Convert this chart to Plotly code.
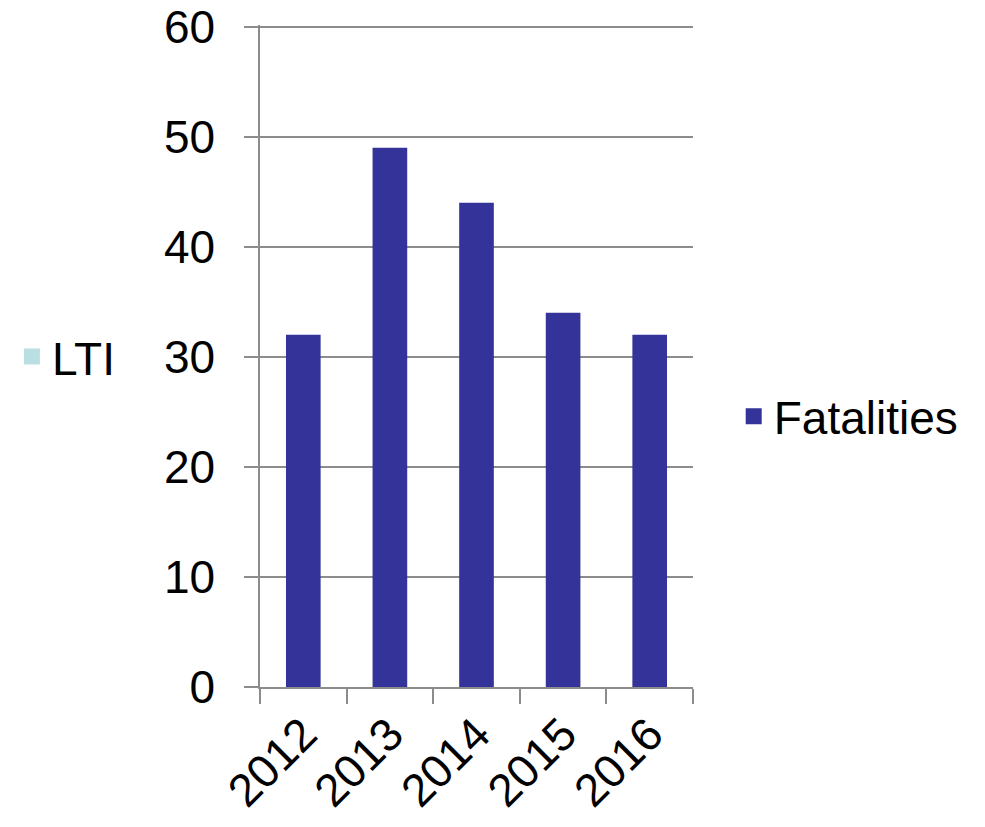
import plotly.graph_objects as go

years = ["2012", "2013", "2014", "2015", "2016"]
fatalities = [32, 49, 44, 34, 32]
lti = [None, None, None, None, None]
y_ticks = [0, 10, 20, 30, 40, 50, 60]

FONT = "Liberation Sans, Arial, sans-serif"
GRID = "#8c8c8c"

fig = go.Figure()
fig.add_trace(go.Bar(x=years, y=fatalities, name="Fatalities", marker=dict(color="#333399", line=dict(width=0)),
                     width=0.4, showlegend=False))
fig.add_trace(go.Bar(x=years, y=lti, name="LTI", marker=dict(color="#B9DFE3"), showlegend=False))
# legend entries
fig.add_trace(go.Scatter(x=[None], y=[None], mode="markers", name="Fatalities",
                         marker=dict(symbol="square", size=16, color="#333399"), legend="legend"))
fig.add_trace(go.Scatter(x=[None], y=[None], mode="markers", name="LTI",
                         marker=dict(symbol="square", size=16, color="#B9DFE3"), legend="legend2"))

fig.update_layout(
    width=985, height=827,
    margin=dict(l=252, r=300, t=17, b=148, autoexpand=False),
    paper_bgcolor="white", plot_bgcolor="white",
    font=dict(family=FONT, size=46, color="black"),
    barmode="overlay",
    legend=dict(x=1.094, y=0.409, xanchor="left", yanchor="middle", font=dict(size=46), bgcolor="rgba(0,0,0,0)"),
    legend2=dict(x=-0.573, y=0.499, xanchor="left", yanchor="middle", font=dict(size=46), bgcolor="rgba(0,0,0,0)"),
    xaxis=dict(type="category", tickangle=-45, tickson="boundaries", ticks="outside", ticklen=15,
               tickcolor=GRID, tickwidth=1.5, showline=True, linecolor=GRID, linewidth=1.5,
               showgrid=False, tickfont=dict(size=46), automargin=False),
    yaxis=dict(range=[0, 60.15], tickvals=y_ticks, ticks="outside", ticklen=14,
               tickcolor=GRID, tickwidth=1.5, ticklabeloverflow="allow",
               showline=True, linecolor=GRID, linewidth=1.5, showgrid=True, gridcolor=GRID, gridwidth=1.5,
               zeroline=False, tickfont=dict(size=46), ticklabelstandoff=20, automargin=False),
)

fig.write_html("out.html")
